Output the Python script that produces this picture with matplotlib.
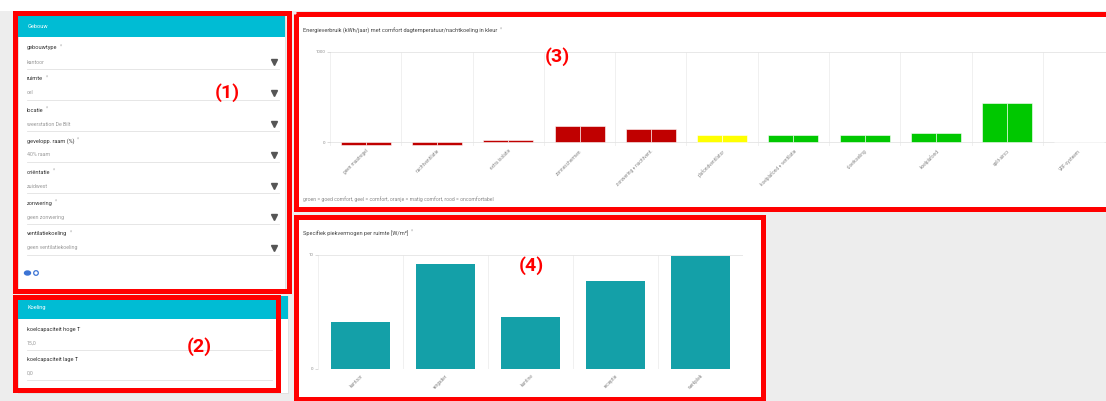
import matplotlib
matplotlib.use("Agg")
import matplotlib.pyplot as plt
from matplotlib.patches import Rectangle, Ellipse, Circle

plt.rcParams['font.family'] = ['Roboto', 'DejaVu Sans']

W, H = 1106, 401

# left form: building inputs
form_title = "Gebouw"
field_labels = ["gebouwtype", "ruimte", "locatie", "gevelopp. raam (%)",
                "oriëntatie", "zonwering", "ventilatiekoeling"]
field_values = ["kantoor", "cel", "weerstation De Bilt", "40% raam",
                "zuidwest", "geen zonwering", "geen ventilatiekoeling"]

# cooling inputs
cool_title = "Koeling"
cool_labels = ["koelcapaciteit hoge T", "koelcapaciteit lage T"]
cool_values = ["15,0", "0,0"]

# energy per measure (kWh/jaar), colour = comfort class
energy_title = "Energieverbruik (kWh/jaar) met comfort dagtemperatuur/nachtkoeling in kleur"
energy_note = "groen = goed comfort, geel = comfort, oranje = matig comfort, rood = oncomfortabel"
measures = ["geen maatregel", "nachtventilatie", "extra isolatie", "zonneschermen",
            "zonwering + nachtvent.", "plafondventilator", "koelplafond + ventilatie",
            "vloerkoeling", "koelplafond", "split-airco", "VRF-systeem"]
energy = [-30, -30, 25, 180, 150, 75, 75, 75, 95, 430, 0]
comfort = ["rood", "rood", "rood", "rood", "rood", "geel",
           "groen", "groen", "groen", "groen", "groen"]
energy_ticks = [0, 1000]

# specific peak power per room
peak_title = "Specifiek piekvermogen per ruimte [W/m²]"
rooms = ["kantoor", "vergader", "kantine", "receptie", "werkplek"]
peak = [4.15, 9.2, 4.6, 7.7, 9.95]
peak_ticks = [0, 10]

comfort_colors = {"groen": "#00c800", "geel": "#ffff00",
                  "oranje": "#ff9900", "rood": "#c00000"}

CYAN = "#00bcd4"
RED = "#ff0000"
FS = 4.1


def px_rect(x0, y0, x1, y1):
    return [x0 / W, 1 - y1 / H, (x1 - x0) / W, (y1 - y0) / H]


fig = plt.figure(figsize=(W / 100, H / 100), dpi=100, facecolor="#ededed")
renderer = fig.canvas.get_renderer()

# background canvas in pixel coordinates
bg = fig.add_axes([0, 0, 1, 1])
bg.set_xlim(0, W)
bg.set_ylim(H, 0)
bg.axis("off")


def required(txt, gap=2.5):
    # light asterisk right after a label
    bb = txt.get_window_extent(renderer).transformed(bg.transData.inverted())
    x_end = max(bb.x0, bb.x1)
    y_top = min(bb.y0, bb.y1)
    bg.text(x_end + gap, y_top + 1, "*", color="#aaaaaa", fontsize=FS - 0.6,
            va="center", ha="left")


bg.add_patch(Rectangle((0, 0), W, 11, color="white", lw=0))
# chart cards
bg.add_patch(Rectangle((296, 14), W - 296, 194, color="white", lw=0))
bg.add_patch(Rectangle((297, 218), 466, 183, facecolor="white",
                       edgecolor="#dddddd", lw=0.6))

# form card (1)
bg.add_patch(Rectangle((18, 16), 267, 274, facecolor="white", edgecolor="#dddddd", lw=0.6))
bg.add_patch(Rectangle((18, 16), 267, 21, color=CYAN, lw=0))
bg.text(28, 26.5, form_title, color="white", fontsize=FS, va="center")
for i, (lab, val) in enumerate(zip(field_labels, field_values)):
    ly = 48 + 31 * i
    t = bg.text(27, ly, lab, color="#333333", fontsize=FS, va="center")
    required(t)
    bg.text(27, ly + 14, val, color="#9a9a9a", fontsize=FS - 0.3, va="center")
    bg.plot([27, 279], [ly + 21, ly + 21], color="#e2e2e2", lw=0.6)
    bg.plot([274], [ly + 14], marker="v", ms=3.8, color="#555555", mec="#555555")
bg.add_patch(Ellipse((27.5, 273), 6, 4, color="#3b73d4"))
bg.add_patch(Circle((36, 273), 2.3, facecolor="none", edgecolor="#3b73d4", lw=0.9))

# cooling card (2)
bg.add_patch(Rectangle((18, 296), 270, 97, facecolor="white", edgecolor="#dddddd", lw=0.6))
bg.add_patch(Rectangle((18, 296), 270, 23, color=CYAN, lw=0))
bg.text(28, 307.5, cool_title, color="white", fontsize=FS, va="center")
for i, (lab, val) in enumerate(zip(cool_labels, cool_values)):
    ly = 330 + 30 * i
    bg.text(27, ly, lab, color="#333333", fontsize=FS, va="center")
    bg.text(27, ly + 13, val, color="#9a9a9a", fontsize=FS - 0.3, va="center")
    bg.plot([27, 272], [ly + 20, ly + 20], color="#e2e2e2", lw=0.6)

# chart titles and note
t = bg.text(303, 31, energy_title, color="#444444", fontsize=FS, va="center")
required(t)
bg.text(303, 199, energy_note, color="#8a8a8a", fontsize=FS - 0.4, va="center")
t = bg.text(303, 233, peak_title, color="#444444", fontsize=FS, va="center")
required(t)

# energy chart (3)
ax3 = fig.add_axes(px_rect(330, 52, 330 + 71.3 * 11, 145.6))
ax3.set_facecolor("none")
x3 = list(range(len(measures)))
cols = [comfort_colors[c] for c in comfort]
ax3.bar([x - 0.175 for x in x3], energy, width=0.35, color=cols, edgecolor="white", lw=0.4, zorder=3)
ax3.bar([x + 0.175 for x in x3], energy, width=0.35, color=cols, edgecolor="white", lw=0.4, zorder=3)
ax3.set_xlim(-0.5, len(measures) - 0.5)
ax3.set_ylim(-40, 1000)
ax3.set_yticks(energy_ticks)
ax3.set_xticks(x3)
ax3.set_xticklabels(measures, rotation=45, ha="right", va="top", rotation_mode="anchor",
                    fontsize=FS - 0.7, color="#8a8a8a")
ax3.set_xticks([x - 0.5 for x in x3] + [len(measures) - 0.5], minor=True)
ax3.grid(axis="x", which="minor", color="#eeeeee", lw=0.6)
ax3.grid(axis="y", which="major", color="#e4e4e4", lw=0.6)
ax3.tick_params(axis="x", which="both", length=0, pad=2)
ax3.tick_params(axis="y", length=2, width=0.5, color="#cccccc", labelsize=FS - 0.9,
                labelcolor="#8a8a8a", pad=1.5)
for s in ax3.spines.values():
    s.set_visible(False)

# peak power chart (4)
ax4 = fig.add_axes(px_rect(318, 255, 743, 369))
ax4.set_facecolor("none")
x4 = list(range(len(rooms)))
ax4.bar(x4, peak, width=0.7, color="#14a0a8", zorder=3)
ax4.set_xlim(-0.5, len(rooms) - 0.5)
ax4.set_ylim(0, 10)
ax4.set_yticks(peak_ticks)
ax4.set_xticks(x4)
ax4.set_xticklabels(rooms, rotation=45, ha="right", va="top", rotation_mode="anchor",
                    fontsize=FS - 0.7, color="#8a8a8a")
ax4.set_xticks([x - 0.5 for x in x4] + [len(rooms) - 0.5], minor=True)
ax4.grid(axis="x", which="minor", color="#eeeeee", lw=0.6)
ax4.grid(axis="y", which="major", color="#e4e4e4", lw=0.6)
ax4.tick_params(axis="x", which="both", length=0, pad=3)
ax4.tick_params(axis="y", length=2, width=0.5, color="#cccccc", labelsize=FS - 0.9,
                labelcolor="#8a8a8a", pad=1.5)
for s in ax4.spines.values():
    s.set_visible(False)

# red callout frames with numbers on top of everything
top = fig.add_axes([0, 0, 1, 1], zorder=10)
top.set_xlim(0, W)
top.set_ylim(H, 0)
top.axis("off")
top.patch.set_alpha(0)
frames = [(14.5, 13, 288.5, 291), (14.5, 297, 277.5, 389.5),
          (295.5, 13.5, 1112, 208.5), (295.5, 217, 763, 399)]
for x0, y0, x1, y1 in frames:
    top.add_patch(Rectangle((x0, y0), x1 - x0, y1 - y0, fill=False,
                            edgecolor=RED, lw=3.6, joinstyle="miter"))
callouts = [("(1)", 227, 93), ("(2)", 199, 347), ("(3)", 557, 57), ("(4)", 531, 266)]
for txt, cx, cy in callouts:
    top.text(cx, cy, txt, color=RED, fontsize=14, fontweight="bold",
             ha="center", va="center")

fig.savefig("out.png", dpi=100, facecolor=fig.get_facecolor())
